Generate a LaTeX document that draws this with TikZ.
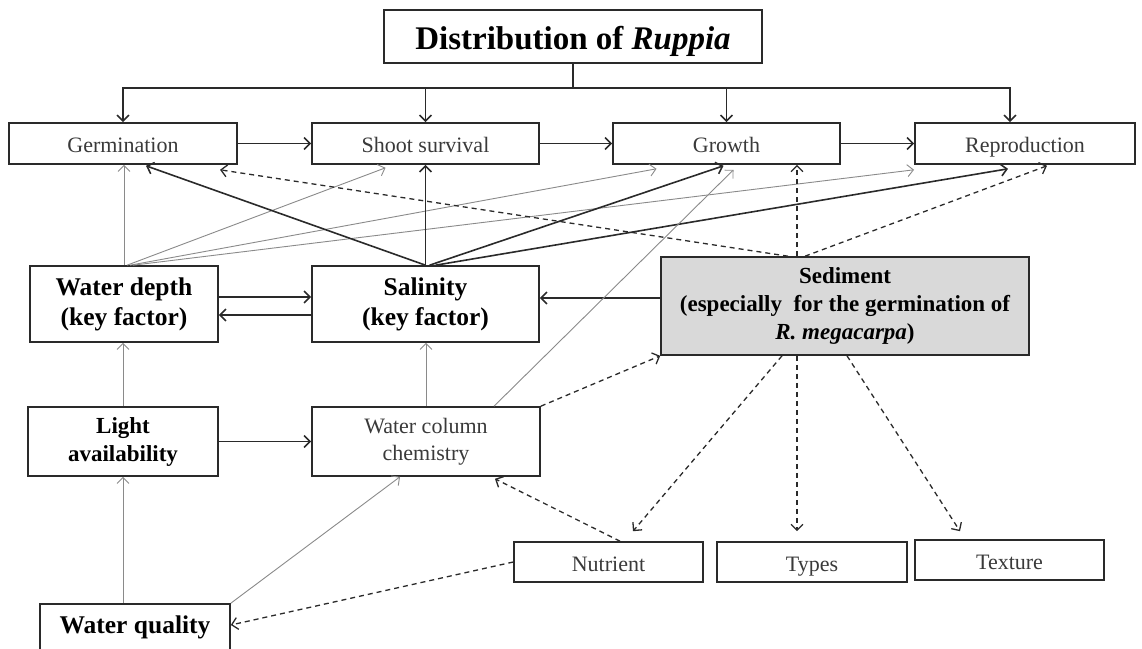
\documentclass[tikz,border=0pt]{standalone}
\usepackage{fontspec}
\setmainfont{Liberation Serif}
\usetikzlibrary{arrows.meta,calc}
\definecolor{txt}{HTML}{3A3A3A}
\definecolor{ink}{HTML}{2A2A2A}
\definecolor{thin}{HTML}{8A8A8A}
\definecolor{sedfill}{HTML}{D9D9D9}
\begin{document}
\begin{tikzpicture}[x=1pt,y=-1pt,
  >={Straight Barb[length=6pt,width=12pt]},
  box/.style={draw=ink,line width=1.6pt,fill=white,inner sep=0pt,align=center,text=txt},
  reg/.style={font=\fontsize{22}{27}\selectfont},
  bbig/.style={font=\fontsize{25.5}{30}\selectfont\bfseries,text=black},
  bmid/.style={font=\fontsize{23}{28}\selectfont\bfseries,text=black},
  oneline/.style={text height=18pt,text depth=0pt},
  conn/.style={draw=ink,line width=1.6pt},
  thinc/.style={draw=thin,line width=0.9pt},
  dsh/.style={draw=ink,line width=1.3pt,dash pattern=on 5pt off 4pt}
]
\useasboundingbox (0,0) rectangle (1142,648);
\clip (0,0) rectangle (1142,648);

% nodes
\node[box,minimum width=378pt,minimum height=53pt,font=\fontsize{33}{38}\selectfont\bfseries,text=black,text height=25pt,text depth=0pt] (title) at (573,36.5) {Distribution of \textit{Ruppia}};
\node[box,reg,oneline,minimum width=228pt,minimum height=41pt] (germ) at (123,143.5) {Germination};
\node[box,reg,oneline,minimum width=227pt,minimum height=41pt] (shoot) at (425.5,143.5) {Shoot survival};
\node[box,reg,oneline,minimum width=227pt,minimum height=41pt] (growth) at (726.5,143.5) {Growth};
\node[box,reg,oneline,minimum width=220pt,minimum height=41pt] (repro) at (1025,143.5) {Reproduction};

\node[box,bbig,minimum width=188pt,minimum height=76pt] (wdepth) at (124,304) {Water depth\\(key factor)};
\node[box,bbig,minimum width=227pt,minimum height=76pt] (salin) at (425.5,304) {Salinity\\(key factor)};
\node[box,bmid,fill=sedfill,minimum width=368pt,minimum height=98pt] (sed) at (845,306) {Sediment\\(especially\ \ for the germination of\\\textit{R. megacarpa})};

\node[box,bmid,minimum width=190pt,minimum height=69pt] (light) at (123,441.5) {Light\\availability};
\node[box,reg,minimum width=228pt,minimum height=69pt] (wcc) at (426,441.5) {Water column\\chemistry};

\node[box,reg,oneline,minimum width=189pt,minimum height=40pt] (nutr) at (608.5,562) {Nutrient};
\node[box,reg,oneline,minimum width=190pt,minimum height=40pt] (types) at (812,562) {Types};
\node[box,reg,oneline,minimum width=189pt,minimum height=40pt] (texture) at (1009.5,560) {Texture};
\node[box,bbig,text height=17pt,text depth=6pt,minimum width=190pt,minimum height=48pt] (wq) at (135,628) {Water quality};

% bus from title
\coordinate (busy) at (0,88);
\draw[conn] (title.south) -- (title.south |- busy);
\draw[conn,->] (title.south |- busy) -| (germ.north);
\draw[conn,->] (title.south |- busy) -| (shoot.north);
\draw[conn,->] (title.south |- busy) -| (growth.north);
\draw[conn,->] (title.south |- busy) -| ($(repro.north)+(-15,0)$);

% top row chain
\draw[conn,->] (germ.east) -- (shoot.west);
\draw[conn,->] (shoot.east) -- (growth.west);
\draw[conn,->] (growth.east) -- (repro.west);

% water depth (thin)
\draw[thinc,->] (wdepth.north) -- (germ.south -| wdepth.north);
\draw[thinc,->] ($(wdepth.north)+(3,0)$) -- ($(shoot.south)+(-40,3)$);
\draw[thinc,->] ($(wdepth.north)+(6,0)$) -- ($(growth.south)+(-70,4)$);
\draw[thinc,->] ($(wdepth.north)+(9,0)$) -- ($(repro.south)+(-111,5)$);

% salinity (thick)
\draw[conn,->] (salin.north) -- ($(germ.south)+(23,1)$);
\draw[conn,->] (salin.north) -- (shoot.south);
\draw[conn,->] ($(salin.north)+(4,0)$) -- ($(growth.south)+(-3,1)$);
\draw[conn,->] ($(salin.north)+(10,0)$) -- ($(repro.south)+(-17,4)$);

% sediment dashed up
\draw[dsh,->] ($(sed.north)+(-57,0)$) -- ($(germ.south)+(97,5)$);
\draw[dsh,->] ($(sed.north)+(-48,0)$) -- ($(growth.south)+(70.5,0)$);
\draw[dsh,->] ($(sed.north)+(-40,0)$) -- ($(repro.south)+(22,1)$);

% key factor links
\draw[conn,->] ($(wdepth.east)+(0,-7)$) -- ($(salin.west)+(0,-7)$);
\draw[conn,->] ($(salin.west)+(0,11)$) -- ($(wdepth.east)+(0,11)$);
\draw[conn,->] ($(sed.west)+(0,-8)$) -- ($(salin.east)+(0,-6)$);

% lower left
\draw[thinc,->] (light.north) -- (wdepth.south -| light.north);
\draw[thinc,->] (wcc.north) -- (salin.south -| wcc.north);
\draw[thinc,->] ($(wcc.north)+(68,0)$) -- ($(growth.south)+(7,5)$);
\draw[dsh,->] (wcc.north east) -- (sed.south west);
\draw[conn,->] (light.east) -- (wcc.west);
\draw[thinc,->] (wq.north -| light.south) -- (light.south);
\draw[thinc,->] (wq.north east) -- ($(wcc.south)+(-26,0)$);

% nutrients
\draw[dsh,->] (nutr.west) -- ($(wq.east)+(0,-3)$);
\draw[dsh,->] ($(nutr.north)+(11.5,0)$) -- ($(wcc.south)+(69,2)$);

% sediment dashed down
\draw[dsh,->] ($(sed.south)+(-63,0)$) -- ($(nutr.north)+(24.5,-10)$);
\draw[dsh,->] ($(sed.south)+(-48,0)$) -- ($(types.north)+(-15,-10)$);
\draw[dsh,->] ($(sed.south)+(2,0)$) -- ($(texture.north)+(-49.5,-8)$);
\end{tikzpicture}
\end{document}
